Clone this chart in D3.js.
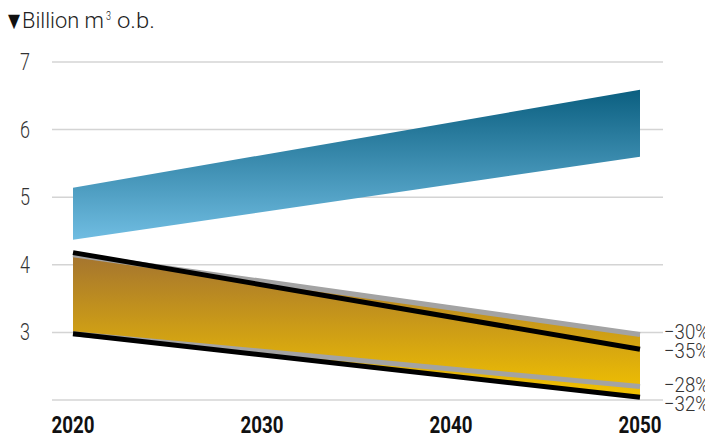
<!DOCTYPE html>
<html><head><meta charset="utf-8">
<script src="https://cdn.jsdelivr.net/npm/d3@7"></script>
<style>
body{margin:0;background:#fff;}
text{font-family:Roboto,"DejaVu Sans",sans-serif;}
.lt{font-weight:300;}
</style></head>
<body><svg id="c" width="705" height="438"></svg>
<script>
const years = [2020, 2050];
const xTicks = [2020, 2030, 2040, 2050];
const yTicks = [2, 3, 4, 5, 6, 7];
const yTickLabels = ["", "3", "4", "5", "6", "7"];
const blueTop = [5.14, 6.59];
const blueBottom = [4.37, 5.6];
const grayUpper = [4.15, 2.97];
const blackUpper = [4.18, 2.75];
const grayLower = [2.98, 2.2];
const blackLower = [2.98, 2.04];
const pctLabels = ["−30%", "−35%", "−28%", "−32%"];
const pctLabelAt = [3.01, 2.73, 2.23, 1.95];
const titleMain = "Billion m";
const titleSup = "3";
const titleEnd = "o.b.";

const svg = d3.select("#c");
const x = d3.scaleLinear().domain([2020, 2050]).range([73, 640]);
const y = d3.scaleLinear().domain([2, 7]).range([400, 62]);

const defs = svg.append("defs");
const gb = defs.append("linearGradient").attr("id","gb").attr("x1",0).attr("y1",0).attr("x2",0).attr("y2",1);
gb.append("stop").attr("offset","0%").attr("stop-color","#0b5f80");
gb.append("stop").attr("offset","100%").attr("stop-color","#70bde2");
const gy = defs.append("linearGradient").attr("id","gy").attr("x1",0).attr("y1",0).attr("x2",0).attr("y2",1);
gy.append("stop").attr("offset","0%").attr("stop-color","#a4742f");
gy.append("stop").attr("offset","100%").attr("stop-color","#f2c200");

// gridlines
svg.append("g").selectAll("line").data(yTicks).join("line")
  .attr("x1",52).attr("x2",663).attr("y1",d=>y(d)).attr("y2",d=>y(d))
  .attr("stroke","#d4d4d4").attr("stroke-width",1.5);

// y labels
svg.append("g").selectAll("text").data(yTicks.slice(1)).join("text")
  .attr("class","lt")
  .attr("x",20).attr("y",d=>y(d)+8)
  .attr("font-size",23).attr("fill","#333")
  .attr("textLength",10).attr("lengthAdjust","spacingAndGlyphs")
  .text((d,i)=>yTickLabels[i+1]);

// x labels
svg.append("g").selectAll("text").data(xTicks).join("text")
  .attr("x",d=>x(d)-21.5).attr("y",433)
  .attr("font-size",23).attr("font-weight","bold").attr("fill","#111")
  .attr("textLength",43).attr("lengthAdjust","spacingAndGlyphs")
  .text(d=>d);

// title
svg.append("text").attr("x",8).attr("y",27).attr("font-size",19).attr("fill","#111")
  .attr("font-family","DejaVu Sans")
  .attr("textLength",12).attr("lengthAdjust","spacingAndGlyphs").text("▼");
svg.append("text").attr("class","lt").attr("x",22).attr("y",28).attr("font-size",22).attr("fill","#222")
  .attr("textLength",82).attr("lengthAdjust","spacingAndGlyphs").text(titleMain);
svg.append("text").attr("class","lt").attr("x",106).attr("y",20).attr("font-size",12).attr("fill","#222")
  .attr("textLength",5).attr("lengthAdjust","spacingAndGlyphs").text(titleSup);
svg.append("text").attr("class","lt").attr("x",117).attr("y",28).attr("font-size",22).attr("fill","#222")
  .attr("textLength",38).attr("lengthAdjust","spacingAndGlyphs").text(titleEnd);

// blue band
const area = d3.area().x((d,i)=>x(years[i])).y0(d=>y(d[0])).y1(d=>y(d[1]));
svg.append("path").datum(years.map((_,i)=>[blueBottom[i], blueTop[i]]))
  .attr("d",area).attr("fill","url(#gb)");

// gold band
svg.append("path").datum(years.map((_,i)=>[blackLower[i], grayUpper[i]]))
  .attr("d",area).attr("fill","url(#gy)");

const line = d3.line().x((d,i)=>x(years[i])).y(d=>y(d));
[[grayUpper,"#a3a3a3"],[grayLower,"#a3a3a3"],[blackUpper,"#000"],[blackLower,"#000"]].forEach(([v,c])=>{
  svg.append("path").datum(v).attr("d",line).attr("fill","none")
    .attr("stroke",c).attr("stroke-width",5);
});

// pct labels
svg.append("g").selectAll("text").data(pctLabelAt).join("text")
  .attr("class","lt")
  .attr("x",664).attr("y",d=>y(d)+7.5)
  .attr("font-size",21).attr("fill","#333")
  .attr("textLength",45).attr("lengthAdjust","spacingAndGlyphs")
  .text((d,i)=>pctLabels[i]);
</script></body></html>
